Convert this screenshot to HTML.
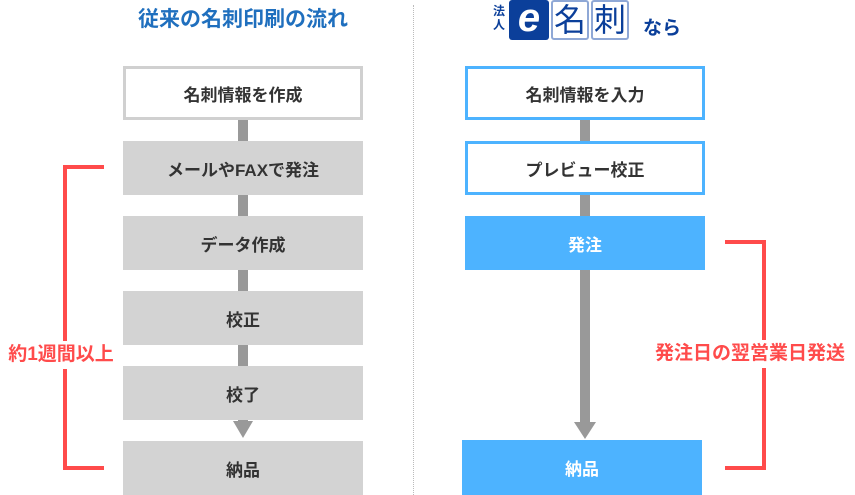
<!DOCTYPE html>
<html><head><meta charset="utf-8"><style>
body{margin:0;width:855px;height:495px;background:#fff;position:relative;overflow:hidden;font-family:"Liberation Sans","Noto Sans CJK JP",sans-serif;}
div{position:absolute;box-sizing:border-box}
.b{width:240px;height:54px;display:flex;align-items:center;justify-content:center;font-size:17px;font-weight:bold;color:#333}
.g{background:#d3d3d3}
.w{background:#fff;border:3px solid #d0d0d0}
.bw{background:#fff;border:3px solid #4db3ff}
.bb{background:#4db3ff;color:#fff}
.c{background:#999;width:10px}
.r{background:#ff4b4b}
</style></head><body>
<div style="left:0;top:6px;width:486px;text-align:center;font-size:21px;font-weight:bold;color:#1f6fbe;line-height:28px">従来の名刺印刷の流れ</div>
<div style="left:413px;top:5px;height:490px;border-left:1px dotted #bbb"></div>

<!-- logo -->
<div style="left:493px;top:4px;font-size:12px;font-weight:bold;color:#0b3f9a;line-height:14px;width:14px">法<br>人</div>
<div style="left:509px;top:0;width:40px;height:40px;background:#0b3f9a;border-radius:3px;color:#fff;font-size:40px;font-style:italic;font-weight:bold;line-height:36px;text-align:center">e</div>
<div style="left:551px;top:0;width:38px;height:40px;border:2px solid #8fa8d6;border-radius:3px;color:#0b3f9a;font-size:32px;line-height:36px;text-align:center">名</div>
<div style="left:591px;top:0;width:38px;height:40px;border:2px solid #8fa8d6;border-radius:3px;color:#0b3f9a;font-size:32px;line-height:36px;text-align:center">刺</div>
<div style="left:643px;top:17px;font-size:19px;font-weight:bold;color:#0b3f9a;line-height:24px">なら</div>

<!-- left -->
<div class="c" style="left:238px;top:118px;height:305px"></div>
<div style="left:233px;top:421px;width:0;height:0;border-left:10px solid transparent;border-right:10px solid transparent;border-top:17px solid #999"></div>
<div class="b w" style="left:123px;top:66px">名刺情報を作成</div>
<div class="b g" style="left:123px;top:141px">メールやFAXで発注</div>
<div class="b g" style="left:123px;top:216px">データ作成</div>
<div class="b g" style="left:123px;top:291px">校正</div>
<div class="b g" style="left:123px;top:366px">校了</div>
<div class="b g" style="left:123px;top:441px">納品</div>

<div class="r" style="left:63px;top:165px;width:4px;height:305px"></div>
<div class="r" style="left:63px;top:165px;width:41px;height:4px"></div>
<div class="r" style="left:63px;top:466px;width:41px;height:4px"></div>
<div style="left:2px;top:341px;width:118px;background:#fff;text-align:center;font-size:19px;font-weight:bold;color:#ff4b4b;line-height:28px">約1週間以上</div>

<!-- right -->
<div class="c" style="left:580px;top:118px;height:308px"></div>
<div style="left:574px;top:422px;width:0;height:0;border-left:11px solid transparent;border-right:11px solid transparent;border-top:17px solid #999"></div>
<div class="b bw" style="left:465px;top:66px">名刺情報を入力</div>
<div class="b bw" style="left:465px;top:141px">プレビュー校正</div>
<div class="b bb" style="left:465px;top:216px">発注</div>
<div class="b bb" style="left:462px;top:440px;height:55px">納品</div>

<div class="r" style="left:762px;top:240px;width:4px;height:230px"></div>
<div class="r" style="left:725px;top:240px;width:41px;height:4px"></div>
<div class="r" style="left:725px;top:466px;width:41px;height:4px"></div>
<div style="left:646px;top:340px;width:208px;background:#fff;text-align:center;font-size:19px;font-weight:bold;color:#ff4b4b;line-height:28px">発注日の翌営業日発送</div>
</body></html>
